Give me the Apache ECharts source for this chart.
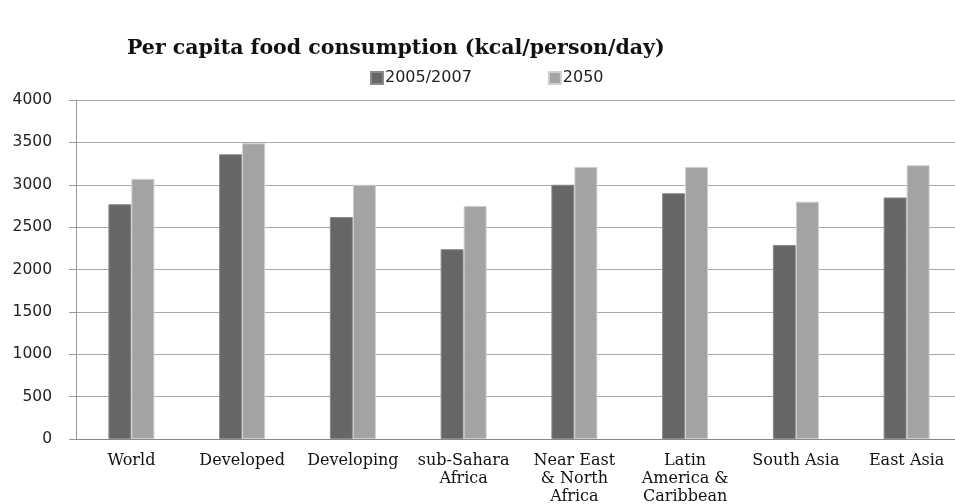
<!DOCTYPE html>
<html>
<head>
<meta charset="utf-8">
<script src="https://cdn.jsdelivr.net/npm/echarts@6/dist/echarts.min.js"></script>
<style>
  html, body { margin: 0; padding: 0; background: #fff; }
  #chart { width: 955px; height: 504px; }
</style>
</head>
<body>
<div id="chart"></div>
<script>
const regions = ['World', 'Developed', 'Developing', 'sub-Sahara\nAfrica', 'Near East\n& North\nAfrica', 'Latin\nAmerica &\nCaribbean', 'South Asia', 'East Asia'];
const base2005 = [2770, 3360, 2620, 2240, 3000, 2900, 2290, 2850];
const proj2050 = [3070, 3490, 3000, 2750, 3210, 3210, 2800, 3230];

const chart = echarts.init(document.getElementById('chart'));

chart.setOption({
    backgroundColor: '#fff',
    animation: false,
    title: {
        text: 'Per capita food consumption (kcal/person/day)',
        left: 122,
        top: 33,
        textStyle: {
            fontFamily: 'DejaVu Serif',
            fontWeight: 'bold',
            fontSize: 20.5,
            color: '#111'
        }
    },
    legend: {
        left: 365,
        top: 65,
        itemWidth: 12,
        itemHeight: 12,
        itemGap: 76,
        icon: 'rect',
        textStyle: {
            fontFamily: 'DejaVu Sans',
            fontSize: 16,
            color: '#222',
            padding: [0, 0, 0, -3]
        }
    },
    grid: {
        left: 76,
        top: 100,
        right: -7,
        bottom: 65,
        outerBoundsMode: 'none'
    },
    xAxis: {
        type: 'category',
        data: regions,
        axisLine: { lineStyle: { color: '#888', width: 1 } },
        axisTick: { length: 6, lineStyle: { color: '#888' } },
        axisLabel: {
            interval: 0,
            margin: 13,
            fontFamily: 'DejaVu Serif',
            fontSize: 16,
            lineHeight: 18,
            color: '#111'
        }
    },
    yAxis: {
        type: 'value',
        min: 0,
        max: 4000,
        interval: 500,
        axisLine: { show: true, lineStyle: { color: '#999', width: 1 } },
        axisTick: { show: true, length: 7, lineStyle: { color: '#999' } },
        splitLine: { lineStyle: { color: '#aaa', width: 1 } },
        axisLabel: {
            margin: 24,
            fontFamily: 'DejaVu Sans',
            fontSize: 15.5,
            color: '#222',
            formatter: (v) => String(v)
        }
    },
    series: [
        {
            name: '2005/2007',
            type: 'bar',
            data: base2005,
            barWidth: 23,
            barGap: '0%',
            itemStyle: { color: '#666666', borderColor: '#8a8a8a', borderWidth: 1 }
        },
        {
            name: '2050',
            type: 'bar',
            data: proj2050,
            barWidth: 23,
            itemStyle: { color: '#a3a3a3', borderColor: '#cfcfcf', borderWidth: 1 }
        }
    ]
});
</script>
</body>
</html>
